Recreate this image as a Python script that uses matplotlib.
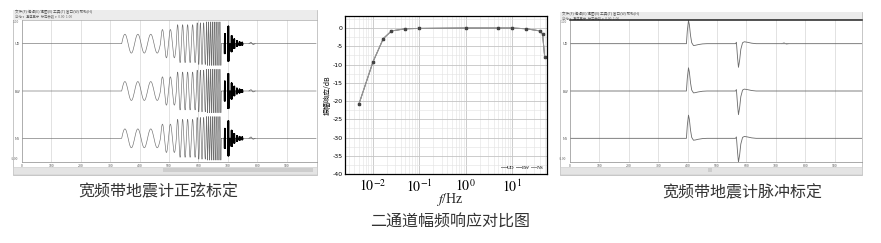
import numpy as np
import matplotlib
matplotlib.use("Agg")
import matplotlib.pyplot as plt
from matplotlib.patches import Rectangle

plt.rcParams['font.family'] = ['Noto Sans CJK SC', 'DejaVu Sans']
plt.rcParams['mathtext.fontset'] = 'stix'
plt.rcParams['axes.unicode_minus'] = False

W, H = 881, 243

# amplitude-frequency response (middle)
freq_hz = [0.005, 0.01, 0.0167, 0.025, 0.05, 0.1, 1, 5, 10, 20, 40, 45, 50]
resp_ud = [-20.8, -9.3, -2.9, -0.8, -0.2, -0.1, 0, 0, 0, -0.2, -0.8, -1.7, -8.0]
resp_ew = [-20.8, -9.3, -2.9, -0.8, -0.2, -0.1, 0, 0, 0, -0.2, -0.8, -1.7, -8.0]
resp_ns = [-20.8, -9.3, -2.9, -0.8, -0.2, -0.1, 0, 0, 0, -0.2, -0.8, -1.7, -8.0]
channels = ['UD', 'EW', 'NS']
freq_ticks = [0.01, 0.1, 1, 10]
freq_labels = [r'$10^{-2}$', r'$10^{-1}$', r'$10^{0}$', r'$10^{1}$']
db_ticks = [0, -5, -10, -15, -20, -25, -30, -35, -40]

# sine calibration (left), time in s
sine_start = 339
sine_period = [44, 27, 17, 11, 6.5]
sine_cycles = [3, 2, 4, 3, 8]
sine_amp = [0.2, 0.3, 0.4, 0.44, 0.46]
burst_time = [690, 702, 713, 722, 731, 740, 749]
burst_amp = [0.21, 0.37, 0.17, 0.1, 0.06, 0.04, 0.03]
tail_time = [772, 779, 786, 793]
tail_amp = [0.0, 0.03, -0.02, 0.0]

# pulse calibration (right)
pulse_on = 396
pulse_off = 563
pulse_t = [-10, 0, 3, 7, 10, 14, 18, 24, 30, 40, 55, 70]
pulse_up = [0, 0, 0.27, 0.49, 0.4, 0.17, 0.02, -0.04, -0.035, -0.02, -0.005, 0]
pulse_down = [0, 0, 0.03, -0.3, -0.5, -0.35, -0.12, 0.02, 0.04, 0.03, 0.01, 0]
bump_t = [720, 728, 736, 744]
bump_v = [0, 0.02, -0.01, 0]

trace_names = ['UD', 'EW', 'NS']
trace_offsets = [2, 1, 0]
time_ticks = list(range(0, 1000, 100))


def rect(x0, y0, x1, y1):
    return [x0 / W, 1 - y1 / H, (x1 - x0) / W, (y1 - y0) / H]


fig = plt.figure(figsize=(W / 100, H / 100), dpi=100)

# background for the two screenshots
bg = fig.add_axes([0, 0, 1, 1], zorder=0)
bg.set_xlim(0, W)
bg.set_ylim(H, 0)
bg.axis('off')
for x0, x1, top in [(13, 317, 10), (560, 862, 12)]:
    bg.add_patch(Rectangle((x0, top), x1 - x0, 175 - top, fc='white', ec='#bdbdbd', lw=0.6))
    bg.add_patch(Rectangle((x0, top), x1 - x0, 10 if top == 10 else 8, fc='#ececec', ec='none'))
    bg.add_patch(Rectangle((x0, 167), x1 - x0, 7, fc='#e4e4e4', ec='#c8c8c8', lw=0.4))
    bg.text(x0 + 2, top + 2.5, '文件(F) 编辑(E) 视图(V) 工具(T) 窗口(W) 帮助(H)',
            fontsize=2.6, color='#555', va='center')
    bg.text(x0 + 2, top + 6.5, '台站 ▾  通道显示  标定参数 ▾  0.00  1.00',
            fontsize=2.4, color='#666', va='center')
bg.add_patch(Rectangle((163, 168), 150, 4, fc='#cdcdcd', ec='none'))
bg.add_patch(Rectangle((708, 168), 4, 4, fc='#cdcdcd', ec='none'))


def screen_axes(x0, x1):
    ax = fig.add_axes(rect(x0, 20, x1, 162), zorder=1)
    ax.set_xlim(0, (x1 - x0) / 29.4 * 100)
    ax.set_ylim(-0.5, 2.5)
    ax.set_xticks(time_ticks)
    ax.set_xticklabels([str(t) for t in time_ticks], fontsize=2.5, color='#555')
    ax.set_yticks(trace_offsets)
    ax.set_yticklabels(trace_names, fontsize=2.8, color='#555')
    ax.tick_params(length=0, pad=1.5)
    ax.grid(axis='x', color='#d6d6d6', lw=0.5)
    ax.spines['right'].set_visible(False)
    ax.spines['left'].set_color('#999')
    ax.spines['left'].set_linewidth(0.5)
    ax.spines['bottom'].set_color('#888')
    ax.spines['bottom'].set_linewidth(0.5)
    ax.text(-0.012, 1.0, '1.00', transform=ax.transAxes, fontsize=2.4, color='#666', ha='right', va='top')
    ax.text(-0.012, 0.01, '-1.00', transform=ax.transAxes, fontsize=2.4, color='#666', ha='right', va='bottom')
    return ax


# ---- left: sine calibration ----
axl = screen_axes(22, 317)
axl.spines['top'].set_color('#aaa')
axl.spines['top'].set_linewidth(0.5)
t_all = [np.array([0.0, sine_start])]
y_all = [np.zeros(2)]
t0 = sine_start
for per, nc, a in zip(sine_period, sine_cycles, sine_amp):
    tt = np.linspace(t0, t0 + per * nc, int(nc * 24) + 1)
    t_all.append(tt)
    y_all.append(a * np.sin(2 * np.pi * (tt - t0) / per))
    t0 = t0 + per * nc
t_all.append(np.array([t0, 1000.0]))
y_all.append(np.zeros(2))
t_sine = np.concatenate(t_all)
y_sine = np.concatenate(y_all)
for off in trace_offsets:
    axl.plot(t_sine, y_sine + off, color='#6e6e6e', lw=0.45)
    for bt, ba in zip(burst_time, burst_amp):
        tb = np.arange(bt - 2, bt + 2.01, 0.5)
        yb = ba * np.where(np.arange(len(tb)) % 2 == 0, 1, -1)
        yb[0] = yb[-1] = 0
        axl.plot(tb, yb + off, color='black', lw=0.8)
    axl.plot(tail_time, np.array(tail_amp) + off, color='#666', lw=0.5)

# ---- right: pulse calibration ----
axr = screen_axes(570, 862)
axr.spines['top'].set_color('#222')
axr.spines['top'].set_linewidth(1.1)
tp = np.concatenate([[0.0], pulse_on + np.array(pulse_t), pulse_off + np.array(pulse_t), [1000.0]])
for off in trace_offsets:
    yp = np.concatenate([[0.0], pulse_up, pulse_down, [0.0]])
    axr.plot(tp, yp + off, color='#6a6a6a', lw=0.6)
axr.plot(bump_t, np.array(bump_v) + trace_offsets[0], color='#888', lw=0.5)

# ---- middle: amplitude-frequency response ----
axm = fig.add_axes(rect(345, 16, 547, 174), zorder=1)
for resp, name, c in zip([resp_ud, resp_ew, resp_ns], channels, ['#8a8a8a', '#808080', '#959595']):
    axm.plot(freq_hz, resp, color=c, lw=0.7, marker='s', ms=1.3, mfc='#444', mec='#444', label=name)
axm.set_xscale('log')
axm.set_xlim(0.0025, 56)
axm.set_ylim(-40, 3.3)
axm.set_xticks(freq_ticks)
axm.set_xticklabels(freq_labels, fontsize=10)
axm.set_yticks(db_ticks)
axm.set_yticklabels([str(v) for v in db_ticks], fontsize=4.5, family='DejaVu Sans')
axm.set_yticks(np.arange(-40, 3, 2.5), minor=True)
axm.tick_params(axis='x', which='both', length=0, pad=3)
axm.tick_params(axis='y', which='both', length=0, pad=1.5)
axm.grid(which='major', color='#c4c4c4', lw=0.6)
axm.grid(which='minor', color='#e2e2e2', lw=0.4)
for s in axm.spines.values():
    s.set_linewidth(0.9)
axm.set_ylabel('振幅响应/dB', fontsize=5, labelpad=1)
axm.legend(loc='lower right', ncol=3, frameon=False, handlelength=1.0,
           handletextpad=0.1, columnspacing=0.2, borderaxespad=0.3, markerscale=0.01,
           prop={'family': 'Liberation Serif', 'size': 3.8})

fig.text(450 / W, 1 - 199 / H, r'$f$/Hz', fontsize=10, family='Liberation Serif',
         ha='center', va='center', color='#222')

# captions
fig.text(158 / W, 1 - 192 / H, '宽频带地震计正弦标定', fontsize=11.5, ha='center', va='center', color='#333')
fig.text(450 / W, 1 - 222 / H, '二通道幅频响应对比图', fontsize=11.5, ha='center', va='center', color='#333')
fig.text(742 / W, 1 - 193 / H, '宽频带地震计脉冲标定', fontsize=11.5, ha='center', va='center', color='#333')

fig.savefig('out.png', dpi=100)
